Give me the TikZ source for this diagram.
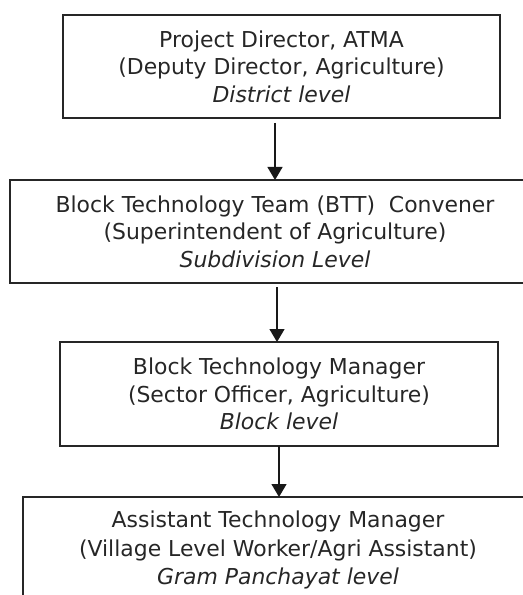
\documentclass[tikz,border=0pt]{standalone}
\usepackage{fontspec}
\setmainfont{DejaVu Sans}
\usetikzlibrary{arrows.meta}
\begin{document}
\begin{tikzpicture}[x=1bp,y=-1bp,
  box/.style={draw=black!85, line width=1.3bp, rectangle, inner sep=0pt, outer sep=0pt, align=center,
    text=black!85, font=\fontsize{22}{27.5}\selectfont},
  link/.style={draw=black!90, line width=1.3bp, -{Triangle[width=15bp,length=13bp]}}]
\useasboundingbox (0,0) rectangle (523,595);
\begin{scope}
\clip (0,0) rectangle (523,595);
\node[box, minimum width=437bp, minimum height=103bp] (b1) at (281.5,66.5)
  {Project Director, ATMA\\(Deputy Director, Agriculture)\\\textit{District level}};
\node[box, minimum width=530bp, minimum height=103bp] (b2) at (275,231.5)
  {Block Technology Team (BTT)~ Convener\\(Superintendent of Agriculture)\\\textit{Subdivision Level}};
\node[box, minimum width=438bp, minimum height=104bp] (b3) at (279,394)
  {Block Technology Manager\\(Sector Officer, Agriculture)\\\textit{Block level}};
\node[box, minimum width=510bp, minimum height=120bp, anchor=north] (b4) at (278,497) {};
\node[align=center, text=black!85, font=\fontsize{22}{29}\selectfont] (t4) at (278,550)
  {Assistant Technology Manager\\(Village Level Worker/Agri Assistant)\\\textit{Gram Panchayat level}};
\end{scope}
\draw[link] (275,123) -- (b2.north -| 275,0);
\draw[link] (277,287) -- (b3.north -| 277,0);
\draw[link] (b3.south -| 279,0) -- (b4.north -| 279,0);
\end{tikzpicture}
\end{document}
